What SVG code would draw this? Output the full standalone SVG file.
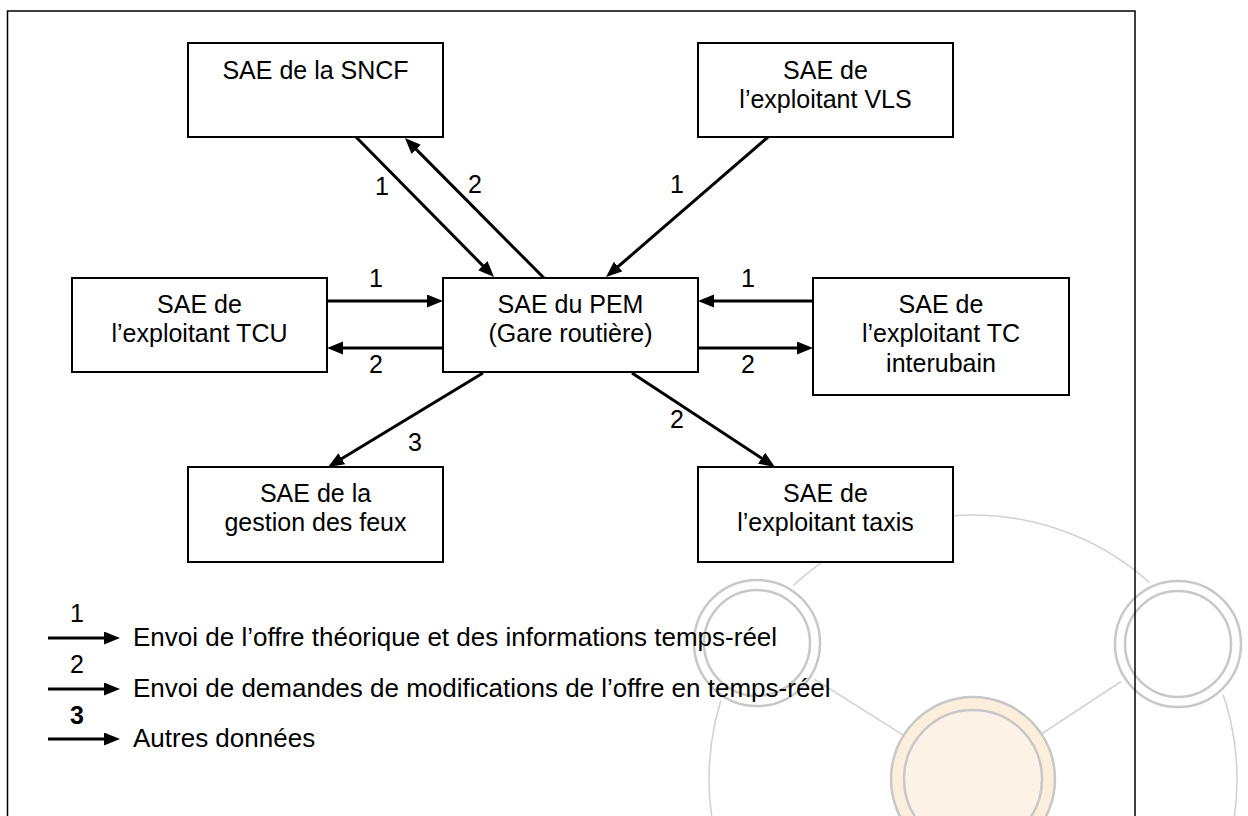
<svg xmlns="http://www.w3.org/2000/svg" width="1248" height="816" viewBox="0 0 1248 816">
  <defs>
    <style>
      .box { fill: #ffffff; stroke: #000000; stroke-width: 2; }
      .t { font-family: "Liberation Sans", Arial, sans-serif; font-size: 25px; fill: #000000; text-anchor: middle; }
      .lg { font-family: "Liberation Sans", Arial, sans-serif; font-size: 26px; fill: #000000; }
      .wire { stroke: #000000; stroke-width: 3; fill: none; marker-end: url(#head); }
      .wm { fill: none; stroke: #d2d2d2; stroke-width: 1.6; }
      .ring { fill: none; stroke: #c8c8c8; stroke-width: 2.5; }
      .hub-out { fill: #fbefdc; stroke: #c8c8c8; stroke-width: 2.5; }
      .hub-in { fill: #fcf3e6; stroke: #c8c8c8; stroke-width: 2.5; }
    </style>
    <marker id="head" markerUnits="userSpaceOnUse" markerWidth="17" markerHeight="14" refX="6" refY="6.5" orient="auto">
      <path d="M0,0 L16,6.5 L0,13 z" fill="#000000"/>
    </marker>
  </defs>

  <rect width="1248" height="816" fill="#ffffff"/>

  <!-- faint background emblem: hub with satellites -->
  <g id="emblem">
    <circle class="wm" cx="973" cy="779" r="264"/>
    <line class="wm" x1="973" y1="779" x2="757" y2="643"/>
    <line class="wm" x1="973" y1="779" x2="1178" y2="644"/>
    <circle cx="757" cy="643" r="68" fill="#ffffff"/>
    <circle class="ring" cx="757" cy="643" r="63"/>
    <circle class="ring" cx="757" cy="643" r="53"/>
    <circle cx="1178" cy="644" r="68" fill="#ffffff"/>
    <circle class="ring" cx="1178" cy="644" r="63"/>
    <circle class="ring" cx="1178" cy="644" r="53"/>
    <circle class="hub-out" cx="973" cy="779" r="82"/>
    <circle class="hub-in" cx="973" cy="779" r="69"/>
  </g>

  <!-- frame -->
  <rect x="7.5" y="11" width="1127.5" height="830" fill="none" stroke="#000000" stroke-width="1.5"/>

  <!-- connectors -->
  <g id="connectors">
    <line class="wire" x1="327" y1="301" x2="433" y2="301"/>
    <line class="wire" x1="443" y1="348" x2="337" y2="348"/>
    <line class="wire" x1="813" y1="301" x2="708" y2="301"/>
    <line class="wire" x1="698" y1="348" x2="803" y2="348"/>
    <line class="wire" x1="356" y1="137" x2="487" y2="269.9"/>
    <line class="wire" x1="544" y1="278" x2="412" y2="145.1"/>
    <line class="wire" x1="768" y1="137" x2="613.6" y2="270.5"/>
    <line class="wire" x1="483" y1="373" x2="336.6" y2="461.8"/>
    <line class="wire" x1="632" y1="373" x2="766.6" y2="461.5"/>
    <text class="t" x="376" y="287">1</text>
    <text class="t" x="376" y="373">2</text>
    <text class="t" x="748" y="287">1</text>
    <text class="t" x="748" y="373">2</text>
    <text class="t" x="382" y="195">1</text>
    <text class="t" x="475" y="193">2</text>
    <text class="t" x="677" y="193">1</text>
    <text class="t" x="415" y="451">3</text>
    <text class="t" x="677" y="428">2</text>
  </g>

  <g id="sncf">
    <rect class="box" x="188" y="43" width="255" height="94"/>
    <text class="t" x="315.5" y="79">SAE de la SNCF</text>
  </g>
  <g id="vls">
    <rect class="box" x="698" y="43" width="255" height="94"/>
    <text class="t" x="825.5" y="79">SAE de</text>
    <text class="t" x="825.5" y="108">l’exploitant VLS</text>
  </g>
  <g id="tcu">
    <rect class="box" x="72" y="278" width="255" height="94"/>
    <text class="t" x="199.5" y="313">SAE de</text>
    <text class="t" x="199.5" y="342">l’exploitant TCU</text>
  </g>
  <g id="pem">
    <rect class="box" x="443" y="278" width="255" height="94"/>
    <text class="t" x="570.5" y="313">SAE du PEM</text>
    <text class="t" x="570.5" y="342">(Gare routière)</text>
  </g>
  <g id="tc-interurbain">
    <rect class="box" x="813" y="278" width="256" height="117"/>
    <text class="t" x="941" y="313">SAE de</text>
    <text class="t" x="941" y="342">l’exploitant TC</text>
    <text class="t" x="941" y="372">interubain</text>
  </g>
  <g id="feux">
    <rect class="box" x="188" y="467" width="255" height="95"/>
    <text class="t" x="315.5" y="502">SAE de la</text>
    <text class="t" x="315.5" y="531">gestion des feux</text>
  </g>
  <g id="taxis">
    <rect class="box" x="698" y="467" width="255" height="95"/>
    <text class="t" x="825.5" y="502">SAE de</text>
    <text class="t" x="825.5" y="531">l’exploitant taxis</text>
  </g>

  <!-- legend -->
  <g id="legend">
    <line class="wire" x1="48" y1="638" x2="110" y2="638"/>
    <text class="t" x="77" y="622">1</text>
    <text class="lg" x="133" y="646">Envoi de l’offre théorique et des informations temps-réel</text>
    <line class="wire" x1="48" y1="689" x2="110" y2="689"/>
    <text class="t" x="77" y="673">2</text>
    <text class="lg" x="133" y="697">Envoi de demandes de modifications de l’offre en temps-réel</text>
    <line class="wire" x1="48" y1="739" x2="110" y2="739"/>
    <text class="t" x="77" y="724" font-weight="bold">3</text>
    <text class="lg" x="133" y="747">Autres données</text>
  </g>
</svg>
